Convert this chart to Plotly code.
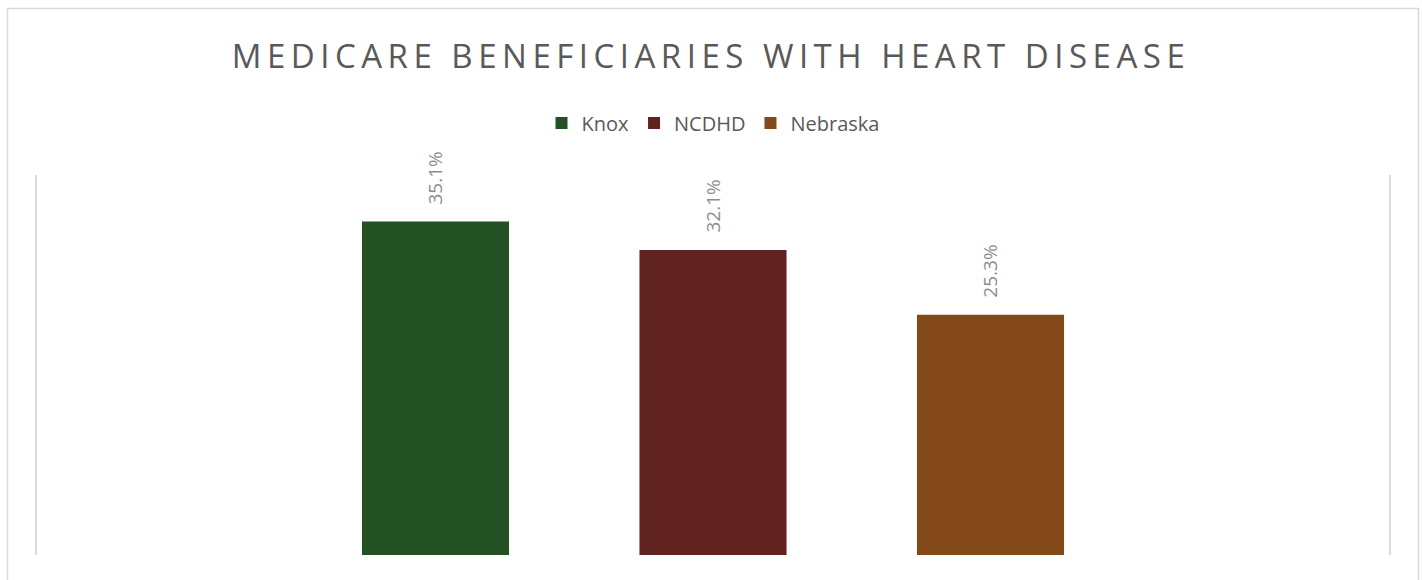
import plotly.graph_objects as go

# chart data
series = ["Knox", "NCDHD", "Nebraska"]
values = [35.1, 32.1, 25.3]
labels = ["35.1%", "32.1%", "25.3%"]
colors = ["#235123", "#612320", "#844919"]

TITLE = "MEDICARE BENEFICIARIES WITH HEART DISEASE"
FONT = "Open Sans, Lato, sans-serif"

W, H = 1422, 580
L, R, T, B = 37, 33, 175, 25

fig = go.Figure()
for name, val, col in zip(series, values, colors):
    fig.add_trace(go.Bar(
        x=[name], y=[val], name=name,
        marker_color=col, marker_line_width=0,
        width=0.53,
    ))

# rotated data labels above each bar
for name, val, lab in zip(series, values, labels):
    fig.add_annotation(
        x=name, y=val, text=lab, showarrow=False,
        textangle=-90, yanchor="bottom", yshift=15,
        font=dict(family=FONT, size=19, color="#8c8c8c"),
    )

# outer chart border (partially cropped at the bottom)
pw, ph = W - L - R, H - T - B
fig.add_shape(
    type="rect", xref="paper", yref="paper",
    x0=(7.5 - L) / pw, x1=(1418.5 - L) / pw,
    y0=-0.2, y1=(H - B - 8.5) / ph,
    line=dict(color="#d9d9d9", width=1.5), layer="below",
)

fig.update_layout(
    width=W, height=H,
    margin=dict(l=L, r=R, t=T, b=B),
    plot_bgcolor="white", paper_bgcolor="white",
    barmode="overlay",
    title=dict(
        text=TITLE, x=0.5, xanchor="center",
        y=1 - 56 / H, yanchor="middle", yref="container",
        font=dict(family=FONT, size=33, color="#595959"),
    ),
    legend=dict(
        orientation="h", x=0.5, xanchor="center",
        y=1 - 123 / H, yanchor="middle", yref="container",
        font=dict(family=FONT, size=20, color="#595959"),
        itemclick=False, traceorder="normal",
    ),
    xaxis=dict(
        range=[1 - 2.436, 1 + 2.436], showticklabels=False,
        showgrid=False, zeroline=False, showline=False,
    ),
    yaxis=dict(
        range=[0, 40], showticklabels=False, showgrid=False,
        zeroline=False, showline=True, mirror=True,
        linecolor="#d9d9d9", linewidth=1.5,
    ),
    showlegend=True,
)

# no page margin; widen the title lettering like the original
post = """
document.body.style.margin = '0';
var t = document.querySelector('.gtitle');
if (t) { t.style.letterSpacing = '5.5px'; }
"""
fig.write_html("out.html", post_script=post, config={"displayModeBar": False})
